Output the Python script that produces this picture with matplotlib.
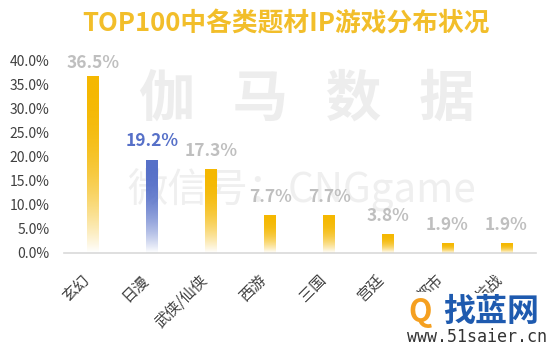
import numpy as np
import matplotlib
matplotlib.use("Agg")
import matplotlib.pyplot as plt
from matplotlib.colors import to_rgb

plt.rcParams['font.family'] = ['Noto Sans CJK SC', 'DejaVu Sans']

categories = ["玄幻", "日漫", "武侠/仙侠", "西游", "三国", "宫廷", "都市", "抗战"]
values = [36.5, 19.2, 17.3, 7.7, 7.7, 3.8, 1.9, 1.9]
highlight = "日漫"
title = "TOP100中各类题材IP游戏分布状况"
yticks = [0, 5, 10, 15, 20, 25, 30, 35, 40]

GOLD = "#F5B800"
BLUE = "#5670C8"

fig = plt.figure(figsize=(5.5, 3.45), dpi=100)
fig.patch.set_facecolor("white")

# watermarks (behind the chart)
fig.text(307 / 550, 1 - 100 / 345, "伽   马   数   据", fontsize=40, fontweight="bold",
         color="#EDEDED", ha="center", va="center", zorder=0)
fig.text(302 / 550, 1 - 190 / 345, "微信号：CNGgame", fontsize=29, color="#EFEFEF",
         ha="center", va="center", zorder=0)

ax = fig.add_axes([63.5 / 550, 1 - 253 / 345, (536 - 63.5) / 550, (253 - 60) / 345])
ax.set_facecolor("none")
ax.set_zorder(2)

x = np.arange(len(categories))
bars = ax.bar(x, values, width=0.2, color="none", edgecolor="none", zorder=3)

ax.set_xlim(-0.5, len(categories) - 0.5)
ax.set_ylim(0, 40)
px_per_unit = (253 - 60) / 40.0
label_off = 19 / px_per_unit
label_cap = 39.4

for cat, v, patch in zip(categories, values, bars.patches):
    col = BLUE if cat == highlight else GOLD
    r, g, b = to_rgb(col)
    t = np.linspace(1, 0, 256)  # top -> bottom
    alpha = 1 - (1 - t) ** 2.3
    grad = np.zeros((256, 1, 4))
    grad[..., 0] = r
    grad[..., 1] = g
    grad[..., 2] = b
    grad[..., 3] = alpha[:, None]
    x0 = patch.get_x()
    w = patch.get_width()
    h = patch.get_height()
    ax.imshow(grad, extent=[x0, x0 + w, 0, h], aspect="auto", zorder=3,
              interpolation="bilinear")
    lc = BLUE if cat == highlight else "#BFBFBF"
    ax.text(x0 + w / 2, min(h + label_off, label_cap), f"{v}%", ha="center",
            va="center", fontsize=12.5, color=lc, fontweight="bold", zorder=5)

ax.set_xlim(-0.5, len(categories) - 0.5)
ax.set_ylim(0, 40)
ax.set_yticks(yticks)
ax.set_yticklabels([f"{t:.1f}%" for t in yticks], fontsize=10, color="#404040")
ax.set_xticks(x)
ax.set_xticklabels(categories, rotation=45, ha="right", va="bottom",
                   rotation_mode="anchor", fontsize=11, color="#404040")
ax.tick_params(axis="both", length=0)
ax.tick_params(axis="y", pad=10)
ax.tick_params(axis="x", pad=22)
for s in ["top", "right", "left"]:
    ax.spines[s].set_visible(False)
ax.spines["bottom"].set_color("#D9D9D9")
ax.spines["bottom"].set_linewidth(1.2)

# title
fig.text(286 / 550, 1 - 24 / 345, title, fontsize=18.5, fontweight="bold",
         color="#F2BE2A", ha="center", va="center")

# site logo
fig.text(420 / 550, 1 - 312 / 345, "Q", fontsize=22, fontweight="bold",
         color="#F5A020", ha="center", va="center", zorder=6,
         bbox=dict(facecolor="white", edgecolor="none", pad=3))
fig.text(491 / 550, 1 - 312 / 345, "找蓝网", fontsize=23, fontweight="bold",
         color="#1E5AAF", ha="center", va="center", zorder=6,
         bbox=dict(facecolor="white", edgecolor="none", pad=2))
fig.text(477 / 550, 1 - 337 / 345, "www.51saier.cn", fontsize=12,
         family="DejaVu Sans Mono", color="#333333", ha="center", va="center", zorder=6)

fig.savefig("out.png", dpi=100, facecolor="white")
